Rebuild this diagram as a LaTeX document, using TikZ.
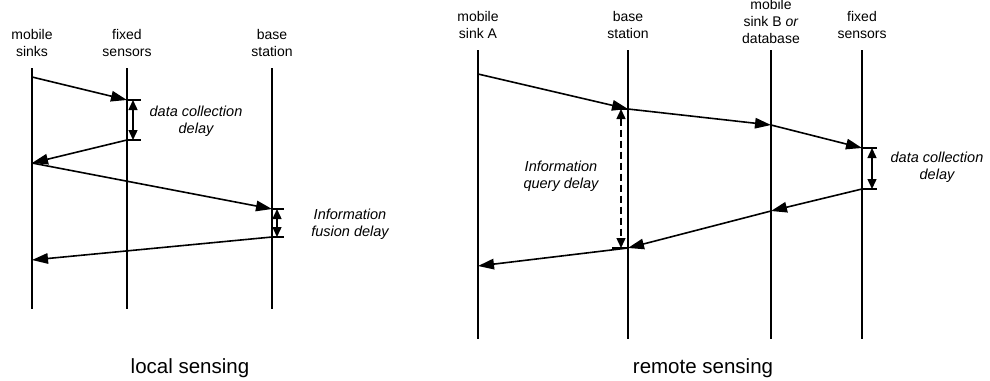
\documentclass[tikz,border=0pt]{standalone}
\usepackage{fontspec}
\setmainfont{Liberation Sans}
\usetikzlibrary{arrows.meta}
\begin{document}
\begin{tikzpicture}[x=1pt,y=-1pt,
  lifeline/.style={line width=1.4pt},
  msg/.style={line width=1.6pt,-{Triangle[length=16pt,width=10.5pt]}},
  tickline/.style={line width=1.4pt},
  delay/.style={line width=1.4pt,{Triangle[length=10pt,width=9pt]}-{Triangle[length=10pt,width=9pt]}},
  qdelay/.style={line width=1.4pt,dash pattern=on 7pt off 4pt,{Triangle[length=10pt,width=9pt]}-{Triangle[length=10pt,width=9pt]}},
  lbl/.style={align=center,anchor=south,inner sep=0pt,text depth=0pt,font=\fontsize{14}{17}\selectfont},
  note/.style={align=center,anchor=south,inner sep=0pt,text depth=0pt,font=\fontsize{14.5}{17.5}\selectfont\itshape},
  captext/.style={anchor=base,inner sep=0pt,font=\fontsize{20.5}{24}\selectfont}]
\useasboundingbox (0,0) rectangle (990,380);

% ---------- local sensing ----------
\node[lbl] (lms) at (32,57) {mobile\\sinks};
\node[lbl] (lfs) at (127,57) {fixed\\sensors};
\node[lbl] (lbs) at (272,57) {base\\station};
\coordinate (lmsT) at (32,68);  \coordinate (lmsB) at (32,309);
\coordinate (lfsT) at (127,68); \coordinate (lfsB) at (127,309);
\coordinate (lbsT) at (272,68); \coordinate (lbsB) at (272,309);
\draw[lifeline] (lmsT) -- (lmsB);
\draw[lifeline] (lfsT) -- (lfsB);
\draw[lifeline] (lbsT) -- (lbsB);

\coordinate (l1) at (32,77);
\coordinate (l2) at (127,100);
\coordinate (l3) at (127,140);
\coordinate (l4) at (32,163);
\coordinate (l5) at (272,209);
\coordinate (l6) at (272,237);
\coordinate (l7) at (32,260);
\draw[msg] (l1) -- (l2);
\draw[msg] (l3) -- (l4);
\draw[msg] (l4) -- (l5);
\draw[msg] (l6) -- (l7);

\coordinate (l2t) at (141,100); \coordinate (l3t) at (141,140);
\draw[tickline] (l2) -- (l2t);
\draw[tickline] (l3) -- (l3t);
\coordinate (ld1a) at (133,100); \coordinate (ld1b) at (133,140);
\draw[delay] (ld1a) -- (ld1b);
\node[note] (ldc) at (196,134) {data collection\\delay};

\coordinate (l5t) at (284,209); \coordinate (l6t) at (284,237);
\draw[tickline] (l5) -- (l5t);
\draw[tickline] (l6) -- (l6t);
\coordinate (ld2a) at (277,209); \coordinate (ld2b) at (277,237);
\draw[delay] (ld2a) -- (ld2b);
\node[note] (lfd) at (350,237) {Information\\fusion delay};

\node[captext] (lcap) at (190,373) {local sensing};

% ---------- remote sensing ----------
\node[lbl] (rma) at (478,39) {mobile\\sink A};
\node[lbl] (rbs) at (628,39) {base\\station};
\node[lbl] (rmb) at (771,44) {mobile\\sink B \textit{or}\\database};
\node[lbl] (rfs) at (862,39) {fixed\\sensors};
\coordinate (rmaT) at (478,50); \coordinate (rmaB) at (478,339);
\coordinate (rbsT) at (628,50); \coordinate (rbsB) at (628,339);
\coordinate (rmbT) at (771,50); \coordinate (rmbB) at (771,339);
\coordinate (rfsT) at (862,50); \coordinate (rfsB) at (862,339);
\draw[lifeline] (rmaT) -- (rmaB);
\draw[lifeline] (rbsT) -- (rbsB);
\draw[lifeline] (rmbT) -- (rmbB);
\draw[lifeline] (rfsT) -- (rfsB);

\coordinate (r1) at (478,74);
\coordinate (r2) at (628,109);
\coordinate (r3) at (771,125);
\coordinate (r4) at (862,148);
\coordinate (r5) at (862,189);
\coordinate (r6) at (771,211);
\coordinate (r7) at (628,248);
\coordinate (r8) at (478,266);
\draw[msg] (r1) -- (r2);
\draw[msg] (r2) -- (r3);
\draw[msg] (r3) -- (r4);
\draw[msg] (r5) -- (r6);
\draw[msg] (r6) -- (r7);
\draw[msg] (r7) -- (r8);

\coordinate (r4t) at (877,148); \coordinate (r5t) at (877,189);
\draw[tickline] (r4) -- (r4t);
\draw[tickline] (r5) -- (r5t);
\coordinate (rd1a) at (872,148); \coordinate (rd1b) at (872,189);
\draw[delay] (rd1a) -- (rd1b);
\node[note] (rdc) at (937,180) {data collection\\delay};

\coordinate (r2t) at (612,109); \coordinate (r7t) at (612,248);
\draw[tickline] (r2) -- (r2t);
\draw[tickline] (r7) -- (r7t);
\coordinate (rq1) at (621,109); \coordinate (rq2) at (621,248);
\draw[qdelay] (rq1) -- (rq2);
\node[note] (rqd) at (561,189) {Information\\query delay};

\node[captext] (rcap) at (703,373) {remote sensing};
\end{tikzpicture}
\end{document}
